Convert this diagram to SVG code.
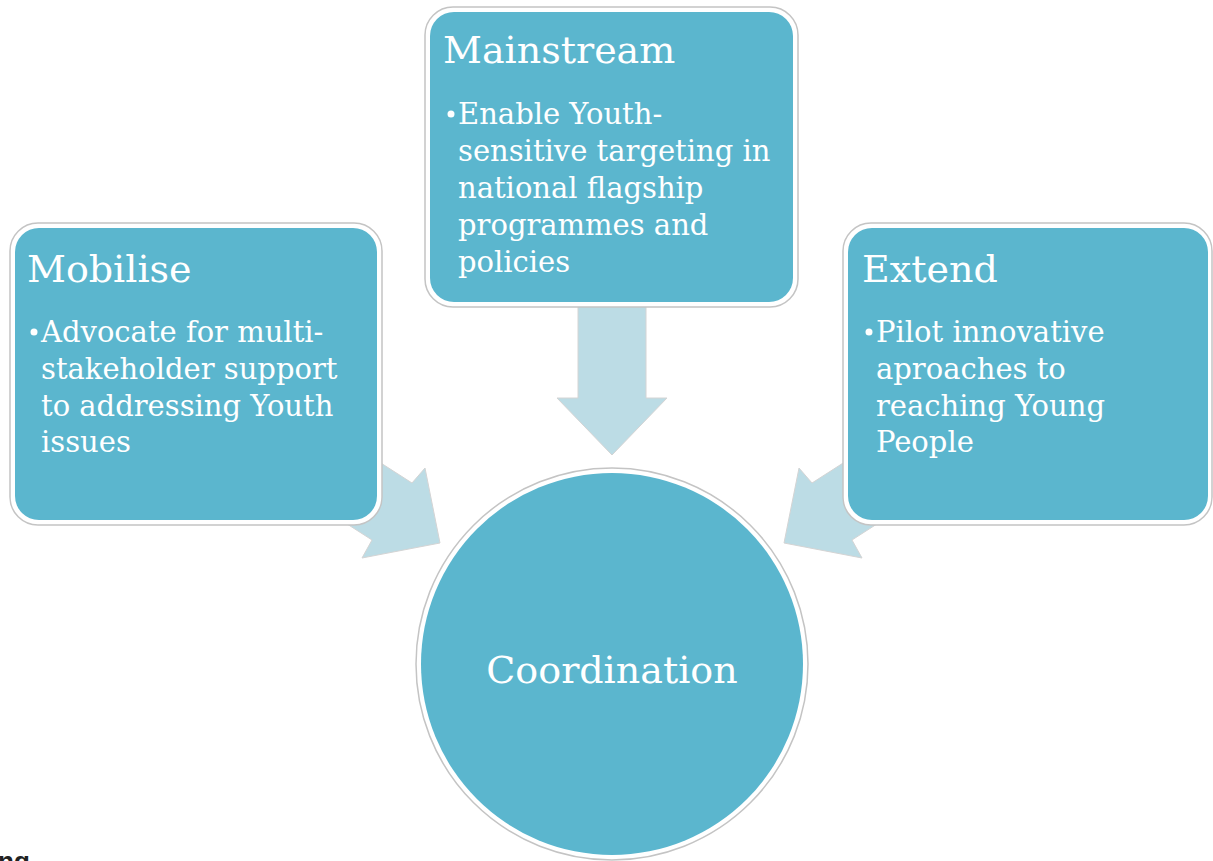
<svg xmlns="http://www.w3.org/2000/svg" width="1213" height="861" viewBox="0 0 1213 861">
<style>
.arrow{fill:#BCDCE5;stroke:#d4d4d4;stroke-width:1}
.outer{fill:#ffffff;stroke:#c4c4c4;stroke-width:1.5}
.inner{fill:#5BB6CE}
.title{font-family:"DejaVu Serif","Liberation Serif",serif;font-size:38px;fill:#ffffff}
.body{font-family:"DejaVu Serif","Liberation Serif",serif;font-size:29px;fill:#ffffff}
.center{font-family:"DejaVu Serif","Liberation Serif",serif;font-size:38px;fill:#ffffff;text-anchor:middle}
.dot{fill:#ffffff}
</style>
<rect width="1213" height="861" fill="#ffffff"/>
<g id="connectors">
<polygon class="arrow" points="345,440 412,483 425,468 440,543 362,558 372,540 305,497"/>
<polygon class="arrow" points="879,440 812,483 799,468 784,543 862,558 852,540 919,497"/>
<polygon class="arrow" points="578,300 646,300 646,398 667,398 612,455 557,398 578,398"/>
</g>
<g id="mobilise">
<rect class="outer" x="10" y="223" width="372" height="302" rx="28"/>
<rect class="inner" x="15" y="228" width="362" height="292" rx="24"/>
<text class="title" x="27" y="282">Mobilise</text>
<circle class="dot" cx="34" cy="332" r="3.5"/>
<text class="body" x="41" y="342">Advocate for multi-</text>
<text class="body" x="41" y="379">stakeholder support</text>
<text class="body" x="41" y="416">to addressing Youth</text>
<text class="body" x="41" y="452">issues</text>
</g>
<g id="mainstream">
<rect class="outer" x="425" y="7" width="373" height="300" rx="28"/>
<rect class="inner" x="430" y="12" width="363" height="290" rx="24"/>
<text class="title" x="443" y="63">Mainstream</text>
<circle class="dot" cx="451" cy="114" r="3.5"/>
<text class="body" x="458" y="124">Enable Youth-</text>
<text class="body" x="458" y="161">sensitive targeting in</text>
<text class="body" x="458" y="198">national flagship</text>
<text class="body" x="458" y="235">programmes and</text>
<text class="body" x="458" y="272">policies</text>
</g>
<g id="extend">
<rect class="outer" x="843" y="223" width="369" height="302" rx="28"/>
<rect class="inner" x="848" y="228" width="360" height="292" rx="24"/>
<text class="title" x="862" y="282">Extend</text>
<circle class="dot" cx="869" cy="332" r="3.5"/>
<text class="body" x="876" y="342">Pilot innovative</text>
<text class="body" x="876" y="379">aproaches to</text>
<text class="body" x="876" y="416">reaching Young</text>
<text class="body" x="876" y="452">People</text>
</g>
<g id="coordination">
<circle class="outer" cx="612" cy="664" r="196"/>
<circle class="inner" cx="612" cy="664" r="191"/>
<text class="center" x="612" y="683">Coordination</text>
</g>
<text x="-2" y="870" font-family="Liberation Sans, Arial, sans-serif" font-weight="bold" font-size="26" fill="#222222">ng</text>
</svg>
